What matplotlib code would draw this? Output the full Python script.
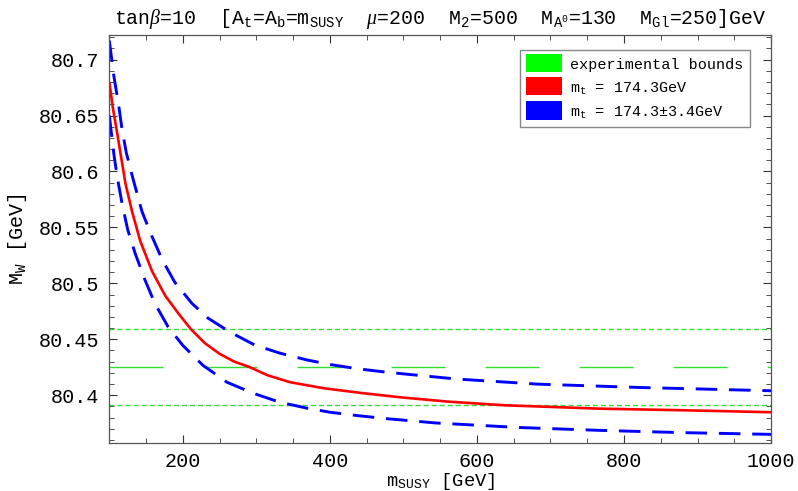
import numpy as np
import matplotlib
matplotlib.use("Agg")
import matplotlib.pyplot as plt
from matplotlib.patches import Patch, Rectangle
from matplotlib.legend_handler import HandlerPatch
from matplotlib.ticker import MultipleLocator, FuncFormatter

plt.rcParams["font.family"] = ["Liberation Mono", "DejaVu Sans Mono"]
plt.rcParams["mathtext.fontset"] = "custom"
plt.rcParams["mathtext.rm"] = "Liberation Mono"
plt.rcParams["mathtext.it"] = "Liberation Serif:italic"
plt.rcParams["mathtext.bf"] = "Liberation Mono:bold"
plt.rcParams["lines.scale_dashes"] = False

# experimental bounds on M_W (central value and +/- band)
exp_central = 80.425
exp_low = 80.391
exp_high = 80.459

# m_t = 174.3 GeV
m_red = [100, 105, 111, 117, 122, 131, 142, 158, 176, 194, 211, 230, 250, 270, 291,
         315, 346, 391, 445, 495, 560, 638, 766, 877, 1000]
mw_red = [80.680, 80.656, 80.633, 80.609, 80.589, 80.564, 80.538, 80.511, 80.489,
          80.473, 80.459, 80.4465, 80.437, 80.430, 80.4251, 80.4179, 80.4116,
          80.4063, 80.4018, 80.3982, 80.3943, 80.391, 80.388, 80.3866, 80.3848]

# m_t = 174.3 + 3.4 GeV
m_up = [100, 106, 112.5, 117, 123, 132, 144.5, 158, 172, 189, 212.5, 234, 264, 298,
        332, 369, 400, 437, 478, 572, 683, 822, 1000]
mw_up = [80.717, 80.686, 80.660, 80.639, 80.617, 80.594, 80.564, 80.542, 80.521,
         80.501, 80.482, 80.469, 80.4565, 80.4448, 80.4376, 80.4315, 80.4275,
         80.4237, 80.4205, 80.4145, 80.4099, 80.4069, 80.404]

# m_t = 174.3 - 3.4 GeV
m_dn = [100, 102.5, 106.5, 111, 118, 125, 135, 148.5, 162, 180, 200, 227, 260, 295.5,
        332, 369, 400, 437, 478, 544, 655, 766, 877, 1000]
mw_dn = [80.650, 80.636, 80.614, 80.594, 80.569, 80.548, 80.527, 80.503, 80.482,
         80.461, 80.4445, 80.4269, 80.4116, 80.4018, 80.3937, 80.3884, 80.3848,
         80.3818, 80.379, 80.3752, 80.3712, 80.3686, 80.3666, 80.365]

GREEN = "#33dd33"


def full_rect(legend, orig_handle, xdescent, ydescent, width, height, fontsize):
    return Rectangle((-xdescent, -ydescent), width, height + ydescent)


fig = plt.figure(figsize=(7.98, 4.91), dpi=100)
ax = fig.add_axes([0.137, 0.0971, 0.8292, 0.8316])

ax.axhline(exp_high, color=GREEN, lw=1.0, dashes=(3.6, 2.2))
ax.axhline(exp_low, color=GREEN, lw=1.0, dashes=(3.6, 2.2))
ax.axhline(exp_central, color=GREEN, lw=1.0, dashes=(38.9, 28.8))

ax.plot(m_up, mw_up, color="#0000ff", lw=2.1, dashes=(15.5, 8.5))
ax.plot(m_dn, mw_dn, color="#0000ff", lw=2.1, dashes=(15.5, 8.5))
ax.plot(m_red, mw_red, color="#ff0000", lw=1.9, solid_capstyle="butt")

ax.set_xlim(100, 1000)
ax.set_ylim(80.357, 80.722)

ax.xaxis.set_major_locator(MultipleLocator(200))
ax.xaxis.set_minor_locator(MultipleLocator(50))
ax.yaxis.set_major_locator(MultipleLocator(0.05))
ax.yaxis.set_minor_locator(MultipleLocator(0.01))
ax.yaxis.set_major_formatter(FuncFormatter(lambda v, p: ("%.2f" % v).rstrip("0").rstrip(".")))

ax.tick_params(which="both", direction="in", top=True, right=True, colors="#333333",
               labelcolor="black", labelsize=14.5)
ax.tick_params(which="major", length=6, width=0.8)
ax.tick_params(which="minor", length=3.5, width=0.6)
ax.tick_params(axis="y", pad=7)
ax.tick_params(axis="x", pad=6)
for s in ax.spines.values():
    s.set_color("#555555")
    s.set_linewidth(0.9)

ax.set_xlabel(r"m$_\mathrm{SUSY}$ [GeV]", fontsize=13.5, labelpad=0)
ax.set_ylabel(r"M$_\mathrm{W}$ [GeV]", fontsize=14.5, labelpad=7)
ax.set_title(r"tan$\beta$=10  [A$_\mathrm{t}$=A$_\mathrm{b}$=m$_\mathrm{SUSY}$  $\mu$=200  "
             r"M$_2$=500  M$_{\mathrm{A}^0}$=130  M$_\mathrm{Gl}$=250]GeV",
             fontsize=14.3, pad=8)

handles = [Patch(facecolor="#00ff00", edgecolor="none"),
           Patch(facecolor="#ff0000", edgecolor="none"),
           Patch(facecolor="#0000ff", edgecolor="none")]
labels = ["experimental bounds", r"m$_\mathrm{t}$ = 174.3GeV",
          r"m$_\mathrm{t}$ = 174.3$\pm$3.4GeV"]
leg = ax.legend(handles, labels, loc="upper right", bbox_to_anchor=(0.968, 0.963),
                handler_map={Patch: HandlerPatch(patch_func=full_rect)},
                fontsize=10.9, handlelength=2.38, handleheight=1.2, handletextpad=0.55,
                labelspacing=0.5, borderpad=0.4, borderaxespad=0.0, fancybox=False,
                framealpha=1.0)
leg.get_frame().set_edgecolor("#888888")
leg.get_frame().set_linewidth(1.0)

fig.savefig("out.png", dpi=100)
